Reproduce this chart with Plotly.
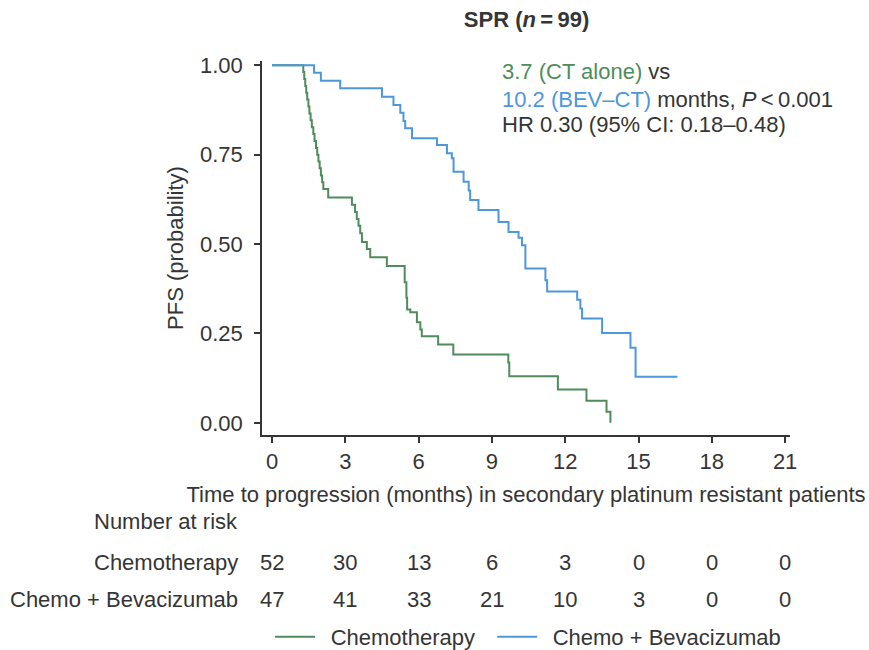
import plotly.graph_objects as go

# ---- data ----
chemo_t = [0, 1.28, 1.32, 1.36, 1.40, 1.44, 1.49, 1.53, 1.58, 1.63,
           1.69, 1.74, 1.80, 1.85, 1.90, 1.95, 2.00, 2.05, 2.10, 2.30,
           3.27, 3.40, 3.47, 3.54, 3.61, 3.68, 3.88, 4.02, 4.70, 5.43,
           5.50, 5.53, 5.66, 5.93, 6.07, 6.13, 6.80, 7.42, 9.67, 9.71,
           11.70, 12.87, 13.69, 13.85]
chemo_s = [1.0, 0.981, 0.962, 0.942, 0.923, 0.904, 0.885, 0.865, 0.846, 0.827,
           0.808, 0.788, 0.769, 0.750, 0.731, 0.712, 0.692, 0.673, 0.654, 0.630,
           0.610, 0.590, 0.570, 0.551, 0.530, 0.506, 0.486, 0.463, 0.439, 0.393,
           0.350, 0.317, 0.309, 0.281, 0.261, 0.242, 0.219, 0.191, 0.169, 0.130,
           0.093, 0.062, 0.031, 0.0]

bev_t = [0, 1.72, 2.00, 2.79, 4.50, 4.97, 5.25, 5.38, 5.45, 5.73,
         6.75, 7.16, 7.36, 7.43, 7.84, 8.05, 8.11, 8.45, 9.27, 9.68,
         10.09, 10.23, 10.37, 11.19, 11.26, 12.49, 12.62, 12.69, 13.51, 14.67,
         14.88, 16.59]
bev_s = [1.0, 0.979, 0.957, 0.936, 0.912, 0.889, 0.867, 0.844, 0.824, 0.796,
         0.777, 0.754, 0.740, 0.702, 0.674, 0.650, 0.623, 0.595, 0.562, 0.534,
         0.518, 0.497, 0.432, 0.399, 0.367, 0.344, 0.320, 0.292, 0.251, 0.210,
         0.129, 0.129]

risk_times = [0, 3, 6, 9, 12, 15, 18, 21]
chemo_risk = [52, 30, 13, 6, 3, 0, 0, 0]
bev_risk = [47, 41, 33, 21, 10, 3, 0, 0]

y_ticks = [0, 0.25, 0.5, 0.75, 1.0]
y_tick_text = ["0.00", "0.25", "0.50", "0.75", "1.00"]

GREEN = "#4f8c5c"
BLUE = "#4d97dc"
TXT = "#353535"
FONT = "Liberation Sans, Arial, sans-serif"
FS = 22

fig = go.Figure()
fig.add_trace(go.Scatter(x=chemo_t, y=chemo_s, mode="lines", line_shape="hv",
                         line=dict(color=GREEN, width=2),
                         name="\u00a0\u2009Chemotherapy\u00a0\u00a0"))
fig.add_trace(go.Scatter(x=bev_t, y=bev_s, mode="lines", line_shape="hv",
                         line=dict(color=BLUE, width=2),
                         name="\u00a0\u2009Chemo + Bevacizumab"))

ann = []
# text block
ann.append(dict(xref="paper", yref="paper", x=0.451, y=0.971, xanchor="left", yanchor="middle",
                text=f"<span style='color:{GREEN}'>3.7 (CT alone)</span> vs", showarrow=False,
                font=dict(size=FS, color=TXT, family=FONT)))
ann.append(dict(xref="paper", yref="paper", x=0.451, y=0.898, xanchor="left", yanchor="middle",
                text=f"<span style='color:{BLUE}'>10.2 (BEV\u2013CT)</span> months, <i>P</i>\u2009<\u20090.001",
                showarrow=False, font=dict(size=FS, color=TXT, family=FONT)))
ann.append(dict(xref="paper", yref="paper", x=0.451, y=0.829, xanchor="left", yanchor="middle",
                text="HR 0.30 (95% CI: 0.18\u20130.48)", showarrow=False,
                font=dict(size=FS, color=TXT, family=FONT)))

# number at risk table
ann.append(dict(xref="paper", yref="paper", x=-0.042, y=-0.230, xanchor="right", yanchor="middle",
                text="Number at risk", showarrow=False, font=dict(size=FS, color=TXT, family=FONT)))
ann.append(dict(xref="paper", yref="paper", x=-0.042, y=-0.340, xanchor="right", yanchor="middle",
                text="Chemotherapy", showarrow=False, font=dict(size=FS, color=TXT, family=FONT)))
ann.append(dict(xref="paper", yref="paper", x=-0.042, y=-0.441, xanchor="right", yanchor="middle",
                text="Chemo + Bevacizumab", showarrow=False, font=dict(size=FS, color=TXT, family=FONT)))
for t, c, b in zip(risk_times, chemo_risk, bev_risk):
    ann.append(dict(xref="x", yref="paper", x=t, y=-0.340, xanchor="center", yanchor="middle",
                    text=str(c), showarrow=False, font=dict(size=FS, color=TXT, family=FONT)))
    ann.append(dict(xref="x", yref="paper", x=t, y=-0.441, xanchor="center", yanchor="middle",
                    text=str(b), showarrow=False, font=dict(size=FS, color=TXT, family=FONT)))

axis_common = dict(showline=True, linecolor=TXT, linewidth=1.5, ticks="outside", ticklen=6,
                   tickwidth=1.5, tickcolor=TXT, showgrid=False, zeroline=False,
                   tickfont=dict(size=FS, color=TXT, family=FONT))

fig.update_layout(
    width=869, height=650, autosize=False,
    margin=dict(l=262, r=79, t=61, b=215, autoexpand=False),
    paper_bgcolor="white", plot_bgcolor="white",
    font=dict(family=FONT, size=FS, color=TXT),
    title=dict(text="<b>SPR (<i>n</i>\u2009=\u200999)</b>", x=0.606, xanchor="center",
               y=1 - 19 / 650, yanchor="middle", font=dict(size=22, color=TXT, family=FONT)),
    xaxis=dict(range=[-0.41, 21.2], tickvals=risk_times,
               title=dict(text="Time to progression (months) in secondary platinum resistant patients",
                          font=dict(size=FS, color=TXT, family=FONT), standoff=13),
               **axis_common),
    yaxis=dict(range=[-0.034, 1.012], tickvals=y_ticks, ticktext=y_tick_text,
               ticklabelstandoff=7,
               title=dict(text="PFS (probability)", font=dict(size=FS, color=TXT, family=FONT),
                          standoff=10),
               **axis_common),
    legend=dict(orientation="h", x=0.504, xanchor="center", y=-0.54, yanchor="middle",
                font=dict(size=FS, color=TXT, family=FONT), bgcolor="rgba(0,0,0,0)",
                itemwidth=40),
    annotations=ann,
    showlegend=True,
)

fig.write_html("out.html")
